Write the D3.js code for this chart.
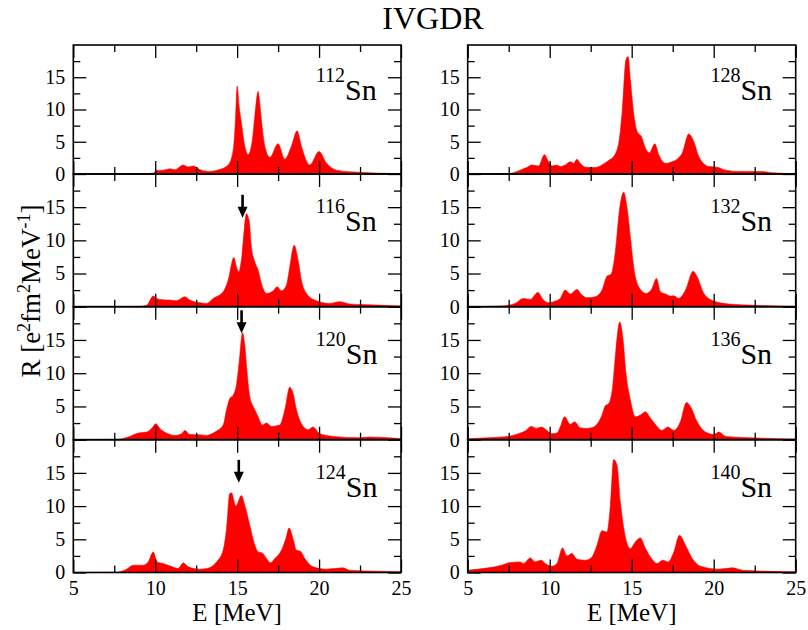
<!DOCTYPE html>
<html>
<head>
<meta charset="utf-8">
<script src="https://cdn.jsdelivr.net/npm/d3@7"></script>
<style>
  body { margin: 0; background: #fff; }
  svg { display: block; }
  text { font-family: "Liberation Serif", "Times New Roman", serif; fill: #000; }
</style>
</head>
<body>
<svg id="chart" width="808" height="630"></svg>
<script>
// IVGDR strength functions R(E) for the Sn isotopic chain, [E (MeV), R (e^2 fm^2 MeV^-1)]
const isotopes = ["112", "116", "120", "124", "128", "132", "136", "140"];

const sn112 = [[5,0],[9.3,0.05],[9.9,0.15],[10.08,0.6],[10.3,0.55],[10.7,0.7],[10.9,0.8],[11.2,0.65],[11.71,1.4],[12.01,1.1],[12.32,1.25],[12.72,0.7],[13.23,0.4],[13.94,0.7],[14.45,1.4],[14.76,3.7],[14.9,8.5],[15.0,13.6],[15.12,10.5],[15.26,7.9],[15.47,4.3],[15.67,3.0],[15.93,5.3],[16.08,9.0],[16.28,12.8],[16.38,11.0],[16.48,8.4],[16.69,4.3],[17.0,2.6],[17.5,4.7],[17.91,2.3],[18.31,4.3],[18.66,6.7],[18.92,4.3],[19.43,1.4],[20.0,3.5],[20.45,1.7],[21.06,0.6],[22.48,0.26],[25,0.05]];

const sn116 = [[5,0],[9.07,0.05],[9.47,0.2],[9.88,1.6],[10.08,1.25],[10.28,1.1],[10.89,1.0],[11.3,0.9],[11.81,1.5],[12.11,1.0],[12.72,0.6],[13.13,0.5],[13.54,1.25],[14.15,2.25],[14.45,4.0],[14.8,7.4],[14.96,6.0],[15.1,5.25],[15.26,7.0],[15.57,14.0],[15.73,13.0],[15.87,9.0],[16.08,6.75],[16.28,5.5],[16.48,3.5],[16.79,2.0],[17.2,2.4],[17.44,3.0],[17.7,2.4],[18.01,3.25],[18.21,6.0],[18.48,9.25],[18.72,7.0],[18.92,4.0],[19.23,2.0],[19.84,0.9],[20.65,0.5],[21.26,0.75],[21.87,0.4],[23.5,0.25],[25,0.1]];

const sn120 = [[5,0],[7.64,0.05],[8.46,0.5],[8.96,1.0],[9.47,1.15],[9.78,1.7],[10.04,2.4],[10.28,1.7],[10.69,1.0],[11.2,0.65],[11.61,0.9],[11.81,1.4],[12.11,0.8],[12.72,0.75],[13.13,0.65],[13.64,1.15],[14.15,2.2],[14.35,4.5],[14.55,6.2],[14.76,6.7],[14.96,8.3],[15.12,11.6],[15.33,16.1],[15.47,14.1],[15.61,10.0],[15.77,6.5],[16.08,4.5],[16.28,3.45],[16.54,2.2],[16.79,2.5],[17.09,2.0],[17.6,2.2],[17.91,4.5],[18.21,7.9],[18.41,7.0],[18.62,4.5],[18.92,2.4],[19.33,1.5],[19.63,1.9],[20.04,0.9],[20.85,0.5],[22.48,0.3],[23.09,0.4],[25,0.15]];

const sn124 = [[5,0],[7.64,0.05],[8.25,0.5],[8.66,1.1],[9.27,1.1],[9.57,1.6],[9.88,3.1],[10.12,1.6],[10.49,1.35],[10.89,1.0],[11.4,0.6],[11.71,1.45],[12.01,0.85],[12.72,0.5],[13.13,0.6],[13.74,1.6],[14.15,3.4],[14.35,6.6],[14.55,11.9],[14.65,12.0],[14.92,10.0],[15.26,11.6],[15.47,10.1],[15.77,7.1],[16.08,4.1],[16.28,3.1],[16.54,2.95],[16.79,2.1],[17.03,1.45],[17.3,2.1],[17.7,3.35],[17.97,5.1],[18.17,6.7],[18.41,5.1],[18.62,3.35],[18.86,3.2],[19.13,2.1],[19.63,0.85],[20.45,0.5],[21.42,0.7],[21.87,0.35],[23.5,0.2],[25,0.1]];

const sn128 = [[5,0],[7.48,0.05],[8.2,0.6],[8.6,1.0],[8.91,1.4],[9.32,1.25],[9.68,3.0],[9.93,1.9],[10.13,1.25],[10.44,1.4],[10.64,1.15],[10.95,1.4],[11.25,1.9],[11.46,1.65],[11.66,2.3],[11.86,1.65],[12.17,1.05],[12.78,1.0],[13.19,1.4],[13.59,2.1],[13.9,2.7],[14.21,4.8],[14.41,9.4],[14.65,17.7],[14.78,18.2],[14.92,14.6],[15.12,9.4],[15.33,6.6],[15.59,5.8],[15.84,4.0],[16.08,3.3],[16.41,4.7],[16.65,3.0],[17.06,1.65],[17.46,1.9],[17.77,2.3],[18.08,3.2],[18.48,6.2],[18.79,5.0],[19.09,2.7],[19.7,1.15],[20.21,1.05],[20.72,0.6],[21.54,0.4],[22.96,0.4],[23.57,0.2],[25,0.05]];

const sn132 = [[5,0],[7.08,0.1],[7.89,0.5],[8.4,1.25],[8.81,1.1],[9.28,2.15],[9.62,1.0],[9.93,0.6],[10.34,0.85],[10.64,1.25],[10.95,2.5],[11.25,1.9],[11.66,2.6],[11.97,1.75],[12.27,1.35],[12.78,1.5],[13.19,2.5],[13.49,4.6],[13.74,4.9],[14.0,8.25],[14.25,14.5],[14.51,17.25],[14.71,15.0],[14.92,10.5],[15.12,6.0],[15.43,3.0],[15.88,2.0],[16.24,2.75],[16.51,4.25],[16.75,2.25],[17.06,1.9],[17.36,1.6],[17.57,1.65],[17.87,1.25],[18.28,2.5],[18.75,5.35],[18.99,4.5],[19.4,2.0],[20.01,0.85],[20.93,0.4],[22.56,0.2],[25,0.05]];

const sn136 = [[5,0.15],[6.26,0.3],[7.48,0.5],[8.1,0.9],[8.5,1.3],[8.87,2.0],[9.22,1.7],[9.48,1.9],[9.83,1.4],[10.13,0.9],[10.44,1.0],[10.64,1.9],[10.91,3.45],[11.25,2.3],[11.52,2.7],[11.86,1.8],[12.27,1.7],[12.68,1.9],[13.19,3.7],[13.39,5.1],[13.59,5.4],[13.84,8.0],[14.04,13.6],[14.27,17.7],[14.47,15.1],[14.65,10.0],[14.92,6.0],[15.22,3.45],[15.53,3.7],[15.84,4.2],[16.08,3.45],[16.41,2.4],[16.85,1.4],[17.2,1.9],[17.57,1.4],[17.97,2.7],[18.34,5.6],[18.58,5.0],[18.99,2.7],[19.5,1.15],[20.01,0.8],[20.32,1.15],[20.72,0.5],[22.15,0.3],[25,0.1]];

const sn140 = [[5,0.35],[6.26,0.7],[7.08,1.1],[7.59,1.5],[8.2,1.6],[8.4,1.35],[8.81,2.2],[9.11,1.6],[9.48,1.85],[9.73,1.35],[10.13,0.95],[10.44,1.35],[10.78,3.7],[11.05,2.5],[11.35,2.85],[11.66,2.0],[12.17,1.85],[12.58,2.35],[12.88,4.1],[13.19,6.3],[13.49,6.1],[13.7,10.1],[13.9,17.0],[14.1,16.2],[14.31,10.6],[14.61,5.4],[14.92,3.6],[15.22,4.6],[15.53,5.2],[15.84,3.6],[16.24,2.0],[16.55,1.35],[16.89,1.85],[17.22,1.6],[17.57,3.1],[17.91,5.6],[18.28,4.1],[18.69,2.1],[19.2,0.95],[20.32,0.5],[21.13,0.7],[21.74,0.35],[25,0.1]];

const spectra = [sn112, sn116, sn120, sn124, sn128, sn132, sn136, sn140];

// Arrows marking the peak energy in three of the isotopes
const arrowIsotopes = ["116", "120", "124"];
const arrowEnergy = [15.33, 15.27, 15.1];
const arrowTipR = [13.4, 16.0, 13.5];

// Axis ticks
const xMajor = [5, 10, 15, 20, 25];
const xMinor = [7.5, 12.5, 17.5, 22.5];
const yMajor = [0, 5, 10, 15];
const yMinor = [2.5, 7.5, 12.5, 17.5];
const xDomain = [5, 25];
const yDomain = [0, 20];

const title = "IVGDR";
const xTitle = "E [MeV]";

// ---- layout ----
const svg = d3.select("#chart");
const serif = '"Liberation Serif", "Times New Roman", serif';
const colX = [[73.3, 401], [467.7, 795.7]];
const rowY = [[45, 174], [174, 306.7], [306.7, 439.7], [439.7, 572.5]];
const majorLen = 13, minorLen = 7;

svg.append("text")
  .attr("x", 433).attr("y", 29)
  .attr("text-anchor", "middle")
  .style("font-size", "32px")
  .text(title);

isotopes.forEach((iso, i) => {
  const col = i < 4 ? 0 : 1;
  const row = i % 4;
  const [left, right] = colX[col];
  const [top, bottom] = rowY[row];

  const x = d3.scaleLinear().domain(xDomain).range([left, right]);
  const y = d3.scaleLinear().domain(yDomain).range([bottom, top]);

  const g = svg.append("g");
  const clipId = "clip" + iso;
  g.append("clipPath").attr("id", clipId)
    .append("rect").attr("x", left).attr("y", top)
    .attr("width", right - left).attr("height", bottom - top);

  const area = d3.area()
    .x(d => x(d[0]))
    .y0(y(0))
    .y1(d => y(d[1]))
    .curve(d3.curveMonotoneX);

  g.append("path")
    .datum(spectra[i])
    .attr("clip-path", `url(#${clipId})`)
    .attr("fill", "#ff0000")
    .attr("stroke", "#ff0000")
    .attr("stroke-width", 0.6)
    .attr("d", area);

  // inward ticks on all four sides
  const tickStyle = sel => {
    sel.select(".domain").remove();
    sel.selectAll(".tick line").attr("stroke", "#000").attr("stroke-width", 1.3);
    sel.selectAll(".tick text").remove();
  };
  [[xMajor, majorLen], [xMinor, minorLen]].forEach(([vals, len]) => {
    g.append("g").attr("transform", `translate(0,${bottom})`)
      .call(d3.axisBottom(x).tickValues(vals).tickSize(-len)).call(tickStyle);
    g.append("g").attr("transform", `translate(0,${top})`)
      .call(d3.axisTop(x).tickValues(vals).tickSize(-len)).call(tickStyle);
  });
  [[yMajor, majorLen], [yMinor, minorLen]].forEach(([vals, len]) => {
    g.append("g").attr("transform", `translate(${left},0)`)
      .call(d3.axisLeft(y).tickValues(vals).tickSize(-len)).call(tickStyle);
    g.append("g").attr("transform", `translate(${right},0)`)
      .call(d3.axisRight(y).tickValues(vals).tickSize(-len)).call(tickStyle);
  });

  // y tick labels
  const yl = g.append("g").attr("transform", `translate(${left},0)`)
    .call(d3.axisLeft(y).tickValues(yMajor).tickSize(0).tickPadding(8));
  yl.attr("font-family", serif);
  yl.select(".domain").remove();
  yl.selectAll("text").style("font-size", "20px").style("font-family", serif).attr("fill", "#000");

  // x tick labels on the bottom row
  if (row === 3) {
    const xl = g.append("g").attr("transform", `translate(0,${bottom})`)
      .call(d3.axisBottom(x).tickValues(xMajor).tickSize(0).tickPadding(8));
    xl.attr("font-family", serif);
    xl.select(".domain").remove();
    xl.selectAll("text").style("font-size", "20px").style("font-family", serif).attr("fill", "#000");
  }

  // frame
  g.append("rect")
    .attr("x", left).attr("y", top)
    .attr("width", right - left).attr("height", bottom - top)
    .attr("fill", "none").attr("stroke", "#000").attr("stroke-width", 1.6);

  // isotope label
  const lab = g.append("text")
    .attr("x", x(19.8)).attr("y", y(11.4));
  lab.append("tspan").attr("dy", -18).style("font-size", "20px").text(iso);
  lab.append("tspan").attr("dy", 18).style("font-size", "30px").text("Sn");

  // arrow
  const ai = arrowIsotopes.indexOf(iso);
  if (ai >= 0) {
    const ax = x(arrowEnergy[ai]);
    const tip = y(arrowTipR[ai]);
    const topY = tip - 23;
    g.append("line")
      .attr("x1", ax).attr("x2", ax)
      .attr("y1", topY).attr("y2", tip - 8)
      .attr("stroke", "#000").attr("stroke-width", 2.6);
    g.append("path")
      .attr("d", `M${ax - 5},${tip - 11} L${ax + 5},${tip - 11} L${ax},${tip} Z`)
      .attr("fill", "#000");
  }

  // x axis title
  if (row === 3) {
    g.append("text")
      .attr("x", (left + right) / 2).attr("y", 621)
      .attr("text-anchor", "middle")
      .style("font-size", "25px")
      .text(xTitle);
  }
});

// y axis title with superscripts
const yt = svg.append("text")
  .attr("transform", "translate(40,291) rotate(-90)")
  .attr("text-anchor", "middle")
  .style("font-size", "27px");
yt.append("tspan").text("R [e");
yt.append("tspan").attr("dy", -10).style("font-size", "18px").text("2");
yt.append("tspan").attr("dy", 10).text("fm");
yt.append("tspan").attr("dy", -10).style("font-size", "18px").text("2");
yt.append("tspan").attr("dy", 10).text("MeV");
yt.append("tspan").attr("dy", -10).style("font-size", "18px").text("-1");
yt.append("tspan").attr("dy", 10).text("]");
</script>
</body>
</html>
